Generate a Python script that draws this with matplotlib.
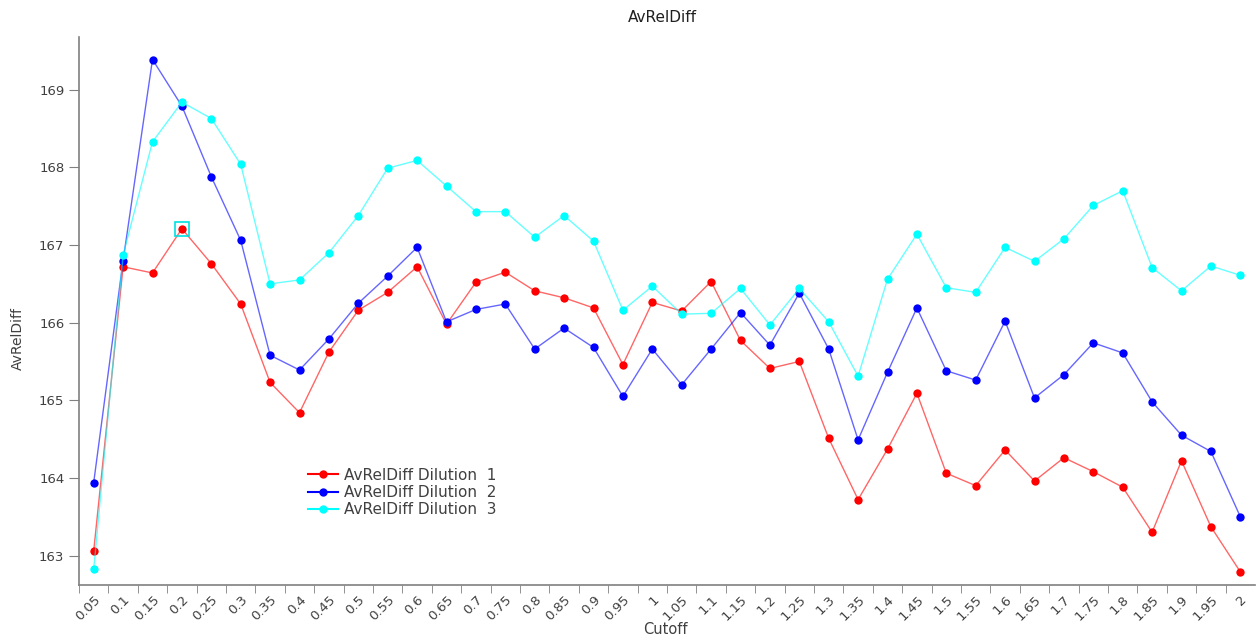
import matplotlib
matplotlib.use("Agg")
import matplotlib.pyplot as plt
import numpy as np
from matplotlib.lines import Line2D

cutoffs = ["0.05", "0.1", "0.15", "0.2", "0.25", "0.3", "0.35", "0.4", "0.45", "0.5",
           "0.55", "0.6", "0.65", "0.7", "0.75", "0.8", "0.85", "0.9", "0.95", "1",
           "1.05", "1.1", "1.15", "1.2", "1.25", "1.3", "1.35", "1.4", "1.45", "1.5",
           "1.55", "1.6", "1.65", "1.7", "1.75", "1.8", "1.85", "1.9", "1.95", "2"]

dilution1 = [163.06, 166.72, 166.64, 167.21, 166.76, 166.24, 165.23, 164.84, 165.62, 166.16,
             166.39, 166.72, 165.98, 166.52, 166.65, 166.41, 166.32, 166.19, 165.46, 166.26,
             166.15, 166.53, 165.77, 165.41, 165.50, 164.51, 163.72, 164.37, 165.09, 164.06,
             163.90, 164.36, 163.96, 164.26, 164.08, 163.88, 163.30, 164.22, 163.37, 162.79]

dilution2 = [163.94, 166.80, 169.39, 168.79, 167.88, 167.06, 165.58, 165.39, 165.79, 166.25,
             166.60, 166.97, 166.01, 166.17, 166.24, 165.66, 165.93, 165.68, 165.05, 165.66,
             165.20, 165.66, 166.13, 165.71, 166.38, 165.66, 164.49, 165.36, 166.19, 165.38,
             165.26, 166.02, 165.03, 165.33, 165.74, 165.61, 164.98, 164.55, 164.34, 163.50]

dilution3 = [162.82, 166.87, 168.33, 168.84, 168.63, 168.04, 166.50, 166.55, 166.90, 167.38,
             167.99, 168.09, 167.76, 167.43, 167.43, 167.10, 167.38, 167.05, 166.16, 166.47,
             166.11, 166.12, 166.44, 165.97, 166.44, 166.01, 165.31, 166.56, 167.14, 166.45,
             166.39, 166.97, 166.79, 167.08, 167.51, 167.70, 166.71, 166.41, 166.73, 166.61]

series_names = ["AvRelDiff Dilution  1", "AvRelDiff Dilution  2", "AvRelDiff Dilution  3"]
series_colors = ["#ff0000", "#0000ff", "#00ffff"]
yticks = [163, 164, 165, 166, 167, 168, 169]
highlight_index = 3

fig = plt.figure(figsize=(12.58, 6.4), dpi=100)
ax = fig.add_axes([79/1258, 55/640, (1255-79)/1258, (585-37)/640])

x = np.arange(len(cutoffs))
for vals, name, col in zip([dilution1, dilution2, dilution3], series_names, series_colors):
    ax.plot(x, vals, color=col, lw=1.0, alpha=0.6)
    ax.plot(x, vals, color=col, lw=0, marker='o', markersize=6, markeredgewidth=0)

handles = [Line2D([0], [0], color=c, lw=1.5, marker='o', markersize=6, markeredgewidth=0)
           for c in series_colors]

ax.plot([x[highlight_index]], [dilution1[highlight_index]], marker='s', markersize=10,
        markerfacecolor='none', markeredgecolor='#00e0e0', markeredgewidth=1.2, lw=0)

ax.set_xlim(-0.5, len(cutoffs) - 0.5)
ax.set_ylim(162.62, 169.68)

ax.set_xticks(x)
ax.set_xticklabels(cutoffs, rotation=45, ha='right', rotation_mode='anchor',
                   fontsize=9.5, color='#404040')
ax.set_xticks(x - 0.5, minor=True)
ax.tick_params(axis='x', which='major', length=0, pad=6)
ax.tick_params(axis='x', which='minor', length=6, color='#808080', direction='out')
ax.set_yticks(yticks)
ax.set_yticklabels([str(v) for v in yticks], fontsize=9.5, color='#404040')
ax.tick_params(axis='y', length=7, color='#808080')

for s in ['top', 'right']:
    ax.spines[s].set_visible(False)
for s in ['left', 'bottom']:
    ax.spines[s].set_color('#808080')
    ax.spines[s].set_linewidth(1.2)

fig.text(662/1258, 1 - 18/640, "AvRelDiff", ha='center', va='center', fontsize=11, color='#202020')
fig.text(18/1258, 1 - 338/640, "AvRelDiff", ha='center', va='center', rotation=90,
         fontsize=10, color='#404040')
fig.text(665/1258, 1 - 630/640, "Cutoff", ha='center', va='center', fontsize=10.5, color='#404040')

leg = ax.legend(handles, series_names, loc='upper left',
                bbox_to_anchor=(300/1258, 1 - 460/640), bbox_transform=fig.transFigure,
                frameon=False, fontsize=11, handlelength=2.0, handletextpad=0.4,
                labelspacing=0.15, borderpad=0, labelcolor='#404040')

fig.savefig("out.png", dpi=100)
